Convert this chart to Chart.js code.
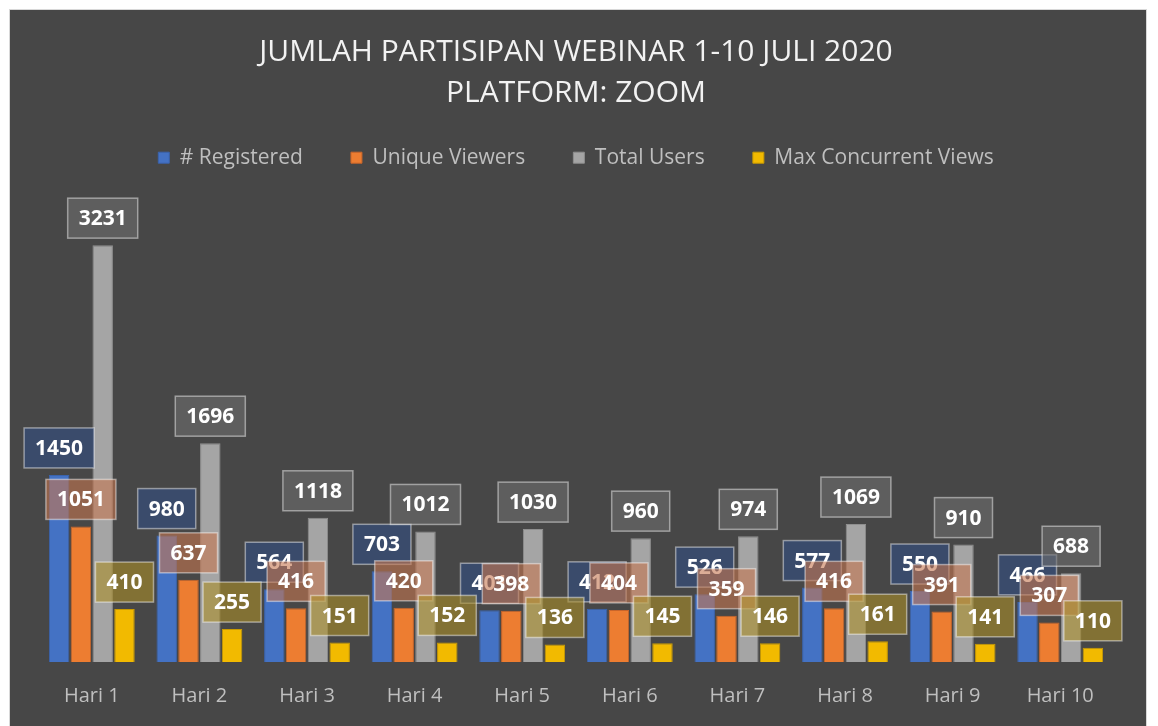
<!DOCTYPE html>
<html>
<head>
<meta charset="utf-8">
<script src="https://cdn.jsdelivr.net/npm/chart.js@4.4.1/dist/chart.umd.min.js"></script>
<style>
  body { margin: 0; background: #ffffff; }
  #panel {
    position: absolute; left: 10px; top: 10px;
    width: 1136px; height: 716px;
    background: #474747;
    outline: 1px solid #d8d8d8;
  }
</style>
</head>
<body>
<div id="panel"><canvas id="myChart" width="1136" height="716"></canvas></div>
<script>
var hari = ["Hari 1", "Hari 2", "Hari 3", "Hari 4", "Hari 5", "Hari 6", "Hari 7", "Hari 8", "Hari 9", "Hari 10"]
var registered = [1450, 980, 564, 703, 401, 412, 526, 577, 550, 466]
var uniqueViewers = [1051, 637, 416, 420, 398, 404, 359, 416, 391, 307]
var totalUsers = [3231, 1696, 1118, 1012, 1030, 960, 974, 1069, 910, 688]
var maxConcurrent = [410, 255, 151, 152, 136, 145, 146, 161, 141, 110]

// warna kotak label per seri
var labelFill = ["rgba(56,76,114,0.85)", "rgba(196,118,80,0.6)", "rgba(110,110,110,0.6)", "rgba(170,142,40,0.6)"]

// plugin label data (gaya "outside end" ala Excel)
var labelBox = {
  id: 'labelBox',
  afterDatasetsDraw: function(chart) {
    var ctx = chart.ctx
    ctx.save()
    ctx.font = "bold 21px 'Open Sans'"
    ctx.textAlign = 'center'
    ctx.textBaseline = 'middle'
    chart.data.datasets.forEach(function(ds, i) {
      var meta = chart.getDatasetMeta(i)
      if (meta.hidden) return
      meta.data.forEach(function(bar, j) {
        var txt = String(ds.data[j])
        var w = ctx.measureText(txt).width + 22
        var h = 40
        var x = bar.x - w / 2
        var y = bar.y - 7 - h
        ctx.fillStyle = labelFill[i]
        ctx.fillRect(x, y, w, h)
        ctx.strokeStyle = 'rgba(255,255,255,0.45)'
        ctx.lineWidth = 1.5
        ctx.strokeRect(x, y, w, h)
        ctx.fillStyle = '#ffffff'
        ctx.fillText(txt, bar.x, y + h / 2 + 1)
      })
    })
    ctx.restore()
  }
}

var defaultLabels = Chart.defaults.plugins.legend.labels.generateLabels

var chart = new Chart("myChart", {
  type: "bar",
  data: {
    labels: hari,
    datasets: [
      { label: "# Registered", data: registered, backgroundColor: "#4472C4", borderColor: "#3a63ad", borderWidth: 1 },
      { label: "Unique Viewers", data: uniqueViewers, backgroundColor: "#ED7D31", borderColor: "#c9652a", borderWidth: 1 },
      { label: "Total Users", data: totalUsers, backgroundColor: "#A5A5A5", borderColor: "#8f8f8f", borderWidth: 1 },
      { label: "Max Concurrent Views", data: maxConcurrent, backgroundColor: "#F2BA00", borderColor: "#c99a00", borderWidth: 1 }
    ]
  },
  options: {
    responsive: false,
    animation: false,
    categoryPercentage: 0.81,
    barPercentage: 0.94,
    layout: { padding: { left: 28, right: 32, bottom: 4, top: 0 } },
    scales: {
      x: {
        grid: { display: false },
        border: { display: false },
        ticks: { color: '#bfbfbf', font: { family: 'Open Sans', size: 20 }, padding: 14 }
      },
      y: {
        display: false,
        min: 0,
        max: 3750
      }
    },
    plugins: {
      title: {
        display: true,
        text: ["JUMLAH PARTISIPAN WEBINAR 1-10 JULI 2020", "PLATFORM: ZOOM"],
        color: '#f2f2f2',
        font: { family: 'Open Sans', size: 30, weight: 'normal', lineHeight: 1.37 },
        padding: { top: 22, bottom: 23 }
      },
      legend: {
        display: true,
        position: 'top',
        labels: {
          color: '#bfbfbf',
          font: { family: 'Open Sans', size: 21 },
          boxWidth: 11,
          boxHeight: 11,
          padding: 10,
          // jarak antar item legend lebih lebar seperti di Excel
          generateLabels: function(chart) {
            var items = defaultLabels(chart)
            items.forEach(function(it, k) {
              if (k < items.length - 1) it.text = it.text + "       "
            })
            return items
          }
        }
      },
      tooltip: { enabled: false }
    }
  },
  plugins: [labelBox]
});
</script>
</body>
</html>
